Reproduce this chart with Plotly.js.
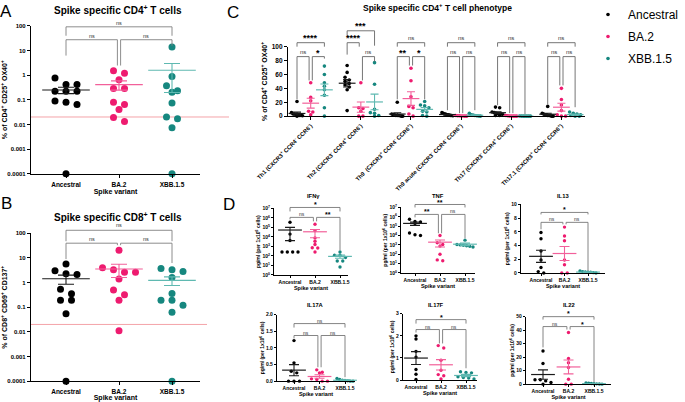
<!DOCTYPE html>
<html><head><meta charset="utf-8">
<script src="https://cdn.plot.ly/plotly-3.0.1.min.js"></script>
<style>html,body{margin:0;padding:0;background:#fff}#chart{width:685px;height:402px}</style>
</head><body><div id="chart"></div>
<script>
const W = 685, H = 402;
const FONT = '"Liberation Sans", Arial, sans-serif';

// ---------- shared ----------
const variants = ['Ancestral', 'BA.2', 'XBB.1.5'];
const dotColors = ['#000000', '#ee1b6f', '#16877f'];
const barColors = ['#1a1a1a', '#f2609a', '#5fb9b1'];

// ---------- A: Spike specific CD4+ T cells (% CD25+ OX40+) ----------
const cd4Ancestral = [0.76, 0.42, 0.42, 0.22, 0.22, 0.22, 0.089, 0.064, 0.08, 0.0001];
const cd4BA2 = [1.5, 1.2, 0.65, 0.29, 0.29, 0.08, 0.064, 0.04, 0.019, 0.013];
const cd4XBB = [14, 0.88, 0.37, 0.23, 0.2, 0.074, 0.02, 0.017, 0.0074, 0.0001];

// ---------- B: Spike specific CD8+ T cells (% CD69+ CD137+) ----------
const cd8Ancestral = [5.6, 3.0, 2.3, 2.1, 0.53, 0.35, 0.19, 0.19, 0.054, 0.0001];
const cd8BA2 = [20.6, 4.0, 3.3, 2.6, 2.6, 1.4, 0.5, 0.32, 0.19, 0.011];
const cd8XBB = [3.7, 3.3, 2.8, 1.6, 0.36, 0.19, 0.19, 0.12, 0.063, 0.0001];
const detectionLimit = 0.02;

// ---------- C: CD4+ T cell phenotype (%) ----------
const phenotypes = [
  'Th1 (CXCR3<sup>+</sup> CCR4<sup>-</sup> CCR6<sup>-</sup>)',
  'Th2 (CXCR3<sup>-</sup> CCR4<sup>+</sup> CCR6<sup>-</sup>)',
  'Th9  (CXCR3<sup>+</sup> CCR4<sup>-</sup> CCR6<sup>+</sup>)',
  'Th9 acute (CXCR3<sup>-</sup> CCR4<sup>-</sup> CCR6<sup>+</sup>)',
  'Th17 (CXCR3<sup>-</sup> CCR4<sup>+</sup> CCR6<sup>+</sup>)',
  'Th17.1 (CXCR3<sup>+</sup> CCR4<sup>-</sup> CCR6<sup>+</sup>)'
];
const phenoAncestral = [
  [21, 5, 3, 3, 2, 2, 1, 1, 0.5, 0],
  [73, 63, 56, 52, 50, 47, 45, 42, 38, 8],
  [20, 3, 2, 2, 1, 1, 1, 0.5, 0, 0],
  [5, 4, 3, 3, 2, 2, 1.5, 1, 1, 0.5],
  [13, 12, 6, 5, 4, 3, 3, 2, 1, 1],
  [14, 4, 3, 2, 2, 1, 1, 0.5, 0, 0]
];
const phenoBA2 = [
  [48, 27, 22, 7, 6, 2],
  [48, 12, 11, 7, 0, 0],
  [69, 51, 28, 14, 12, 3, 0],
  [1, 0.5, 0.5, 0.3, 0.2, 0, 0],
  [1, 0.5, 0.3, 0.2, 0, 0, 0],
  [40, 24, 16, 8, 2, 0, 0]
];
const phenoXBB = [
  [72, 60, 48, 43, 38, 30, 12, 0],
  [77, 46, 10, 5, 4, 1, 0],
  [21, 16, 15, 12, 7, 6, 1, 0],
  [4, 2, 1.5, 1, 0.5, 0.3, 0],
  [0.2, 0.1, 0, 0, 0, 0, 0],
  [6, 4, 3, 2, 1, 0, 0]
];

// ---------- D: cytokines, pg/ml (per 1x10^6 cells) ----------
const ifngAncestral = [3.5e5, 2e4, 4.2e3, 260, 260, 260, 260];
const ifngBA2 = [2.2e5, 4.6e4, 8e3, 3.5e3, 1.6e3, 720, 700, 260];
const ifngXBB = [260, 117, 117, 68, 30, 30, 7];
const tnfAncestral = [5.5e5, 3.2e5, 2.8e5, 1.9e5, 1.9e4, 1.2e4, 1e4];
const tnfBA2 = [1e4, 1.7e3, 1.1e3, 740, 100, 25, 20];
const tnfXBB = [3.2e3, 1.1e3, 1e3, 900, 800, 700, 600];
const il13Ancestral = [5.9, 5.0, 3.2, 1.9, 0.8, 0.2, 0];
const il13BA2 = [6.7, 5.4, 4.7, 1.9, 1.2, 0, 0];
const il13XBB = [0.3, 0.2, 0.15, 0.1, 0.1, 0.05, 0];
const il17aAncestral = [1.22, 0.55, 0.3, 0.25, 0, 0, 0];
const il17aBA2 = [0.34, 0.27, 0.25, 0.07, 0.05, 0, 0];
const il17aXBB = [0.08, 0.05, 0.03, 0.02, 0.01, 0, 0];
const il17fAncestral = [2.0, 1.86, 1.3, 1.04, 0.48, 0.27, 0.03];
const il17fBA2 = [1.56, 1.45, 0.9, 0.45, 0.25, 0.2, 0.05];
const il17fXBB = [0.38, 0.35, 0.33, 0.15, 0.12, 0.1, 0.05];
const il22Ancestral = [24.5, 15.3, 3.2, 3.2, 2.4, 1.2, 0];
const il22BA2 = [38.3, 19, 15.8, 12.4, 3.6, 0, 0];
const il22XBB = [0.8, 0.6, 0.5, 0.3, 0.2, 0.1, 0];

const logTickVals = [1, 10, 100, 1e3, 1e4, 1e5, 1e6, 1e7];
const logTickText = ['10<sup>0</sup>','10<sup>1</sup>','10<sup>2</sup>','10<sup>3</sup>','10<sup>4</sup>','10<sup>5</sup>','10<sup>6</sup>','10<sup>7</sup>'];

// ---------- helpers ----------
const mean = a => a.reduce((s, v) => s + v, 0) / a.length;
const sem = a => { const m = mean(a); return Math.sqrt(a.reduce((s, v) => s + (v - m) * (v - m), 0) / (a.length - 1) / a.length); };

const traces = [], shapes = [], annotations = [];
const layout = {
  width: W, height: H, margin: {l: 0, r: 0, t: 0, b: 0},
  paper_bgcolor: '#fff', plot_bgcolor: 'rgba(0,0,0,0)',
  font: {family: FONT, color: '#000'},
  showlegend: true,
  legend: {x: 588 / W, y: 1 + 3 / H, xanchor: 'left', yanchor: 'top', font: {size: 12, family: FONT},
           bgcolor: 'rgba(0,0,0,0)', tracegroupgap: 3, itemsizing: 'trace'},
  shapes, annotations
};

function ypx(c, v) {
  const [l, r, t, b] = c.box;
  let f;
  if (c.ylog) { const lv = Math.log10(Math.max(v, Math.pow(10, c.yrange[0]))); f = (lv - c.yrange[0]) / (c.yrange[1] - c.yrange[0]); }
  else f = (v - c.yrange[0]) / (c.yrange[1] - c.yrange[0]);
  return b - f * (b - t);
}
function swarm(vals, c) {
  const idx = vals.map((v, i) => i).sort((a, b) => ypx(c, vals[a]) - ypx(c, vals[b]));
  const off = new Array(vals.length).fill(0);
  let i = 0;
  while (i < idx.length) {
    let j = i; const y0 = ypx(c, vals[idx[i]]);
    while (j + 1 < idx.length && Math.abs(ypx(c, vals[idx[j + 1]]) - y0) < c.thr) j++;
    const k = j - i + 1; let sp = c.hsp;
    if (k > 1 && (k - 1) / 2 * sp > c.maxHalf) sp = c.maxHalf * 2 / (k - 1);
    for (let m = 0; m < k; m++) off[idx[i + m]] = (m - (k - 1) / 2) * sp / c.s;
    i = j + 1;
  }
  return off;
}

function addPanel(c) {
  const sfx = c.n === 1 ? '' : String(c.n);
  const xa = 'x' + sfx, ya = 'y' + sfx;
  const [l, r, t, b] = c.box;
  const axBase = {showline: true, linecolor: '#000', linewidth: 1.1, ticks: 'outside', ticklen: c.ticklen || 3,
                  tickwidth: 1, tickcolor: '#000', showgrid: false, zeroline: false, fixedrange: true};
  const xax = Object.assign({}, axBase, {
    domain: [l / W, r / W], anchor: ya, range: [(l - c.c0) / c.s, (r - c.c0) / c.s],
    tickmode: 'array', tickvals: c.xtickvals, ticktext: c.xticktext, tickangle: c.xtickangle || 0,
    ticklabelstandoff: c.xlabstand || 0,
    tickfont: {size: c.xtfs, family: FONT, weight: 'bold'}
  });
  if (c.xtitle) xax.title = {text: c.xtitle, font: {size: c.xtitlefs || 7, family: FONT, weight: 'bold'}, standoff: c.xstand || 2};
  layout['xaxis' + sfx] = xax;
  layout['yaxis' + sfx] = Object.assign({}, axBase, {
    domain: [1 - b / H, 1 - t / H], anchor: xa, type: c.ylog ? 'log' : 'linear', range: c.yrange,
    tickmode: 'array', tickvals: c.ytickvals, ticktext: c.yticktext,
    tickfont: {size: c.ytfs, family: FONT, weight: 'bold'},
    title: {text: c.ytitle, font: {size: c.ytitlefs, family: FONT, weight: 'bold'}, standoff: c.ystand || 2}
  });
  const gap = c.gap || 0;
  // dots
  for (let v = 0; v < 3; v++) {
    const xs = [], ys = [];
    c.groups.forEach((grp, g) => {
      const vals = grp[v]; const off = swarm(vals, c);
      vals.forEach((val, i) => { xs.push(g * gap + v + off[i]); ys.push(val); });
    });
    traces.push({type: 'scatter', mode: 'markers', x: xs, y: ys, xaxis: xa, yaxis: ya, name: variants[v],
      legendgroup: variants[v], showlegend: !!c.legend, cliponaxis: false, hoverinfo: 'skip',
      marker: {color: dotColors[v], size: c.msize, line: {width: 0}}});
  }
  // mean +/- SEM
  for (let v = 0; v < 3; v++) {
    const mx = [], my = [], me = [];
    c.groups.forEach((grp, g) => { mx.push(g * gap + v); my.push(mean(grp[v])); me.push(sem(grp[v])); });
    traces.push({type: 'scatter', mode: 'markers', x: mx, y: my, xaxis: xa, yaxis: ya, showlegend: false,
      cliponaxis: false, hoverinfo: 'skip',
      marker: {symbol: 'line-ew', size: c.meanW, color: barColors[v], line: {color: barColors[v], width: 1.2}},
      error_y: {type: 'data', array: me, visible: true, color: barColors[v], thickness: 1.1, width: c.capW}});
  }
  // significance brackets
  (c.brackets || []).forEach(br => {
    const [g, a, bb, y, l0, l1, label, ly] = br;
    const dx = 1.6 / c.s;
    let x0 = g * gap + a, x1 = g * gap + bb;
    if (a === 1) x0 += dx; if (bb === 1) x1 -= dx;
    shapes.push({type: 'path', xref: xa, yref: 'paper', layer: 'above',
      path: `M${x0},${1 - l0 / H} L${x0},${1 - y / H} L${x1},${1 - y / H} L${x1},${1 - l1 / H}`,
      line: {color: c.bcol || '#808080', width: 0.9}});
    const star = label.indexOf('*') >= 0;
    annotations.push({xref: xa, yref: 'paper', x: (x0 + x1) / 2, y: 1 - ly / H, text: label, showarrow: false,
      xanchor: 'center', yanchor: 'middle',
      font: {size: star ? c.starfs : c.nsfs, family: FONT, weight: star ? 'bold' : 'normal', color: star ? '#000' : '#333'}});
  });
  // panel title
  if (c.title) annotations.push({xref: 'paper', yref: 'paper', x: c.title[1] / W, y: 1 - c.title[2] / H,
    text: c.title[0], showarrow: false, xanchor: 'center', yanchor: 'middle',
    font: {size: c.title[3], family: FONT, weight: 'bold'}});
}

const catTicks = {xtickvals: [0, 1, 2], xticktext: variants};
const logAB = {ylog: true, yrange: [-4, 2], ytickvals: [1e-4, 1e-3, 1e-2, 0.1, 1, 10, 100],
               yticktext: ['0.0001', '0.001', '0.01', '0.1', '1', '10', '100']};

// ---------- Panel A ----------
addPanel(Object.assign({n: 1, box: [31, 200, 23, 172], c0: 66, s: 53,
  groups: [[cd4Ancestral, cd4BA2, cd4XBB]], msize: 7, thr: 6.5, hsp: 11, maxHalf: 17,
  meanW: 34, capW: 8, xtfs: 6.5, ytfs: 6, xtitle: 'Spike variant', xtitlefs: 7, xstand: 1, xlabstand: 1,
  ytitle: '% of CD4<sup>+</sup> CD25<sup>+</sup> OX40<sup>+</sup>', ytitlefs: 7, ystand: 1,
  nsfs: 5.5, starfs: 8,
  title: ['Spike specific CD4<sup>+</sup> T cells', 118, 7, 10],
  brackets: [[0, 0, 2, 24, 33, 33, 'ns', 20], [0, 0, 1, 37, 53, 63, 'ns', 33], [0, 1, 2, 37, 63, 43, 'ns', 33]]
}, catTicks, logAB));

// ---------- Panel B ----------
addPanel(Object.assign({n: 2, box: [31, 200, 232, 381], c0: 66, s: 53,
  groups: [[cd8Ancestral, cd8BA2, cd8XBB]], msize: 7, thr: 6.5, hsp: 11, maxHalf: 17,
  meanW: 34, capW: 8, xtfs: 6.5, ytfs: 6, xtitle: 'Spike variant', xtitlefs: 7, xstand: 1, xlabstand: 1,
  ytitle: '% of CD8<sup>+</sup> CD69<sup>+</sup> CD137<sup>+</sup>', ytitlefs: 7, ystand: 1,
  nsfs: 5.5, starfs: 8,
  title: ['Spike specific CD8<sup>+</sup> T cells', 118, 216, 10],
  brackets: [[0, 0, 2, 229, 240, 240, 'ns', 224], [0, 0, 1, 242, 258, 244, 'ns', 238], [0, 1, 2, 242, 244, 262, 'ns', 238]]
}, catTicks, logAB));

shapes.push({type: 'line', xref: 'paper', yref: 'y', x0: 31 / W, x1: 229 / W, y0: detectionLimit, y1: detectionLimit,
  line: {color: '#f4a3a8', width: 1}, layer: 'below'});
shapes.push({type: 'line', xref: 'paper', yref: 'y2', x0: 31 / W, x1: 207 / W, y0: detectionLimit, y1: detectionLimit,
  line: {color: '#f4a3a8', width: 1}, layer: 'below'});

// ---------- Panel C ----------
const cGap = 3.66;
addPanel({n: 3, box: [288, 585, 44, 114], c0: 297, s: 13.7, gap: cGap, legend: true,
  groups: phenotypes.map((p, g) => [phenoAncestral[g], phenoBA2[g], phenoXBB[g]]),
  ylog: false, yrange: [0, 100], ytickvals: [0, 20, 40, 60, 80, 100], yticktext: ['0', '20', '40', '60', '80', '100'],
  xtickvals: phenotypes.map((p, g) => g * cGap + 1), xticktext: phenotypes, xtickangle: -45,
  msize: 3.6, thr: 3.2, hsp: 4.2, maxHalf: 5.5, meanW: 12, capW: 4, xtfs: 5.8, ytfs: 6.5,
  ytitle: '% of CD4<sup>+</sup> CD25<sup>+</sup> OX40<sup>+</sup>', ytitlefs: 7, ystand: 3,
  nsfs: 6, starfs: 9, bcol: '#666',
  title: ['Spike specific CD4<sup>+</sup> T cell phenotype', 437, 5, 8.5],
  brackets: [
    [0, 0, 2, 40, 44, 44, '****', 35], [0, 0, 1, 54, 97, 78, 'ns', 49], [0, 1, 2, 54, 78, 56, '*', 50],
    [1, 0, 2, 28, 33, 43, '***', 23], [1, 0, 1, 40, 52, 44, '****', 35], [1, 1, 2, 54, 78, 59, 'ns', 49],
    [2, 0, 2, 40, 44, 44, 'ns', 35], [2, 0, 1, 54, 97, 63, '**', 50], [2, 1, 2, 54, 63, 97, '*', 50],
    [3, 0, 2, 40, 44, 44, 'ns', 35], [3, 0, 1, 54, 108, 111, 'ns', 49], [3, 1, 2, 54, 111, 108, 'ns', 49],
    [4, 0, 2, 40, 44, 44, 'ns', 35], [4, 0, 1, 54, 103, 111, 'ns', 49], [4, 1, 2, 54, 111, 112, 'ns', 49],
    [5, 0, 2, 40, 44, 44, 'ns', 35], [5, 0, 1, 54, 102, 83, 'ns', 49], [5, 1, 2, 54, 83, 105, 'ns', 49]
  ]
});

// ---------- Panel D ----------
const dCommon = {msize: 3.4, thr: 3.0, hsp: 5.5, maxHalf: 8, meanW: 17, capW: 5, xtfs: 5, ytfs: 5,
  xtitle: 'Spike variant', xtitlefs: 5.5, xstand: 1, ytitle: 'pg/ml (per 1x10<sup>6</sup> cells)', ytitlefs: 5, ystand: 1,
  nsfs: 5, starfs: 7, bcol: '#777', ticklen: 2};
addPanel(Object.assign({n: 4, box: [274, 348, 207, 274], c0: 290, s: 25,
  groups: [[ifngAncestral, ifngBA2, ifngXBB]], ylog: true, yrange: [0, 7], ytickvals: logTickVals, yticktext: logTickText,
  title: ['IFNγ', 313, 194, 5.8],
  brackets: [[0, 0, 2, 206, 210, 210, '*', 203], [0, 0, 1, 216, 218, 220, 'ns', 213], [0, 1, 2, 216, 220, 249, '**', 213.5]]
}, catTicks, dCommon));
addPanel(Object.assign({n: 5, box: [401, 475, 206, 272], c0: 415, s: 25,
  groups: [[tnfAncestral, tnfBA2, tnfXBB]], ylog: true, yrange: [0, 7], ytickvals: logTickVals, yticktext: logTickText,
  title: ['TNF', 438, 194, 5.8],
  brackets: [[0, 0, 2, 203, 206, 206, '**', 200.5], [0, 0, 1, 213, 216, 232, '**', 210.5], [0, 1, 2, 213, 232, 237, 'ns', 210]]
}, catTicks, dCommon));
addPanel(Object.assign({n: 6, box: [521, 605, 203, 272], c0: 541, s: 23.5,
  groups: [[il13Ancestral, il13BA2, il13XBB]], ylog: false, yrange: [0, 10], ytickvals: [0, 2, 4, 6, 8, 10], yticktext: ['0', '2', '4', '6', '8', '10'],
  title: ['IL13', 563, 194, 5.8],
  brackets: [[0, 0, 2, 211, 213, 213, '*', 208], [0, 0, 1, 221, 228, 223, 'ns', 218], [0, 1, 2, 221, 223, 270, 'ns', 218]]
}, catTicks, dCommon));
addPanel(Object.assign({n: 7, box: [277, 355, 314, 381], c0: 294, s: 25.5,
  groups: [[il17aAncestral, il17aBA2, il17aXBB]], ylog: false, yrange: [0, 2], ytickvals: [0, 0.5, 1, 1.5, 2], yticktext: ['0.0', '0.5', '1.0', '1.5', '2.0'],
  title: ['IL17A', 315, 304, 5.8],
  brackets: [[0, 0, 2, 323, 327, 327, 'ns', 320], [0, 0, 1, 335, 338, 367, 'ns', 332], [0, 1, 2, 335, 367, 377, 'ns', 332]]
}, catTicks, dCommon));
addPanel(Object.assign({n: 8, box: [403, 477, 313, 380], c0: 416, s: 25,
  groups: [[il17fAncestral, il17fBA2, il17fXBB]], ylog: false, yrange: [0, 3], ytickvals: [0, 1, 2, 3], yticktext: ['0', '1', '2', '3'],
  title: ['IL17F', 436, 304, 5.8],
  brackets: [[0, 0, 2, 319, 323, 323, '*', 316.5], [0, 0, 1, 329, 332, 343, 'ns', 326], [0, 1, 2, 329, 343, 368, 'ns', 326]]
}, catTicks, dCommon));
addPanel(Object.assign({n: 9, box: [526, 611, 316, 384], c0: 543, s: 25.5,
  groups: [[il22Ancestral, il22BA2, il22XBB]], ylog: false, yrange: [0, 50], ytickvals: [0, 10, 20, 30, 40, 50], yticktext: ['0', '10', '20', '30', '40', '50'],
  title: ['IL22', 569, 304, 5.8],
  brackets: [[0, 0, 2, 316, 319, 319, '*', 313], [0, 0, 1, 326, 347, 329, 'ns', 323], [0, 1, 2, 326, 329, 382, '*', 323.5]]
}, catTicks, dCommon));

// panel letters
[['A', 6, 9], ['B', 6, 202], ['C', 233, 10], ['D', 229, 203]].forEach(([t, x, y]) =>
  annotations.push({xref: 'paper', yref: 'paper', x: x / W, y: 1 - y / H, text: t, showarrow: false,
    xanchor: 'center', yanchor: 'middle', font: {size: 17, family: FONT}}));

Plotly.newPlot('chart', traces, layout, {staticPlot: true, displayModeBar: false});
</script></body></html>
